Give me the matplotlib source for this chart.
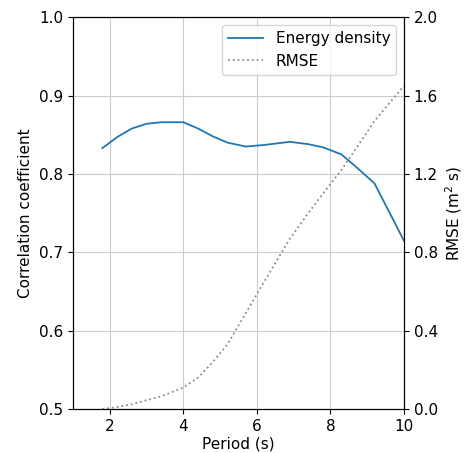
import numpy as np
import matplotlib
matplotlib.use("Agg")
from matplotlib import pyplot as plt

# periods (s)
period = [1.8, 2.2, 2.6, 3.0, 3.4, 4.0, 4.4, 4.8, 5.2, 5.7, 6.2, 6.9, 7.4, 7.8, 8.3, 8.7, 9.2, 10.0]
# correlation coefficient of energy density
corr = [0.833, 0.847, 0.858, 0.864, 0.866, 0.866, 0.858, 0.848, 0.840, 0.835, 0.837, 0.841, 0.838, 0.834, 0.825, 0.809, 0.788, 0.715]
# RMSE (m^2 s)
rmse = [0.0, 0.01, 0.025, 0.045, 0.065, 0.11, 0.16, 0.24, 0.33, 0.49, 0.65, 0.87, 1.0, 1.1, 1.22, 1.33, 1.47, 1.65]

plt.rcParams["font.size"] = 11

fig, ax = plt.subplots(figsize=(4.68, 4.53), dpi=100)
fig.subplots_adjust(left=0.156, right=0.863, bottom=0.097, top=0.962)

l1, = ax.plot(period, corr, color="tab:blue", lw=1.3, label="Energy density")
ax.set_xlim(1, 10)
ax.set_ylim(0.5, 1.0)
ax.set_xticks([2, 4, 6, 8, 10])
ax.set_yticks(np.arange(0.5, 1.01, 0.1))
ax.set_xlabel("Period (s)", labelpad=2)
ax.set_ylabel("Correlation coefficient")
ax.grid(True, color="0.8")

ax2 = ax.twinx()
l2, = ax2.plot(period, rmse, color="0.55", ls=":", lw=1.3, label="RMSE")
ax2.set_ylim(0, 2.0)
ax2.set_yticks(np.arange(0, 2.01, 0.4))
ax2.set_ylabel("RMSE (m$^2$ s)")

ax2.legend(handles=[l1, l2], loc="upper right", handlelength=2.3)

plt.savefig("out.png")
